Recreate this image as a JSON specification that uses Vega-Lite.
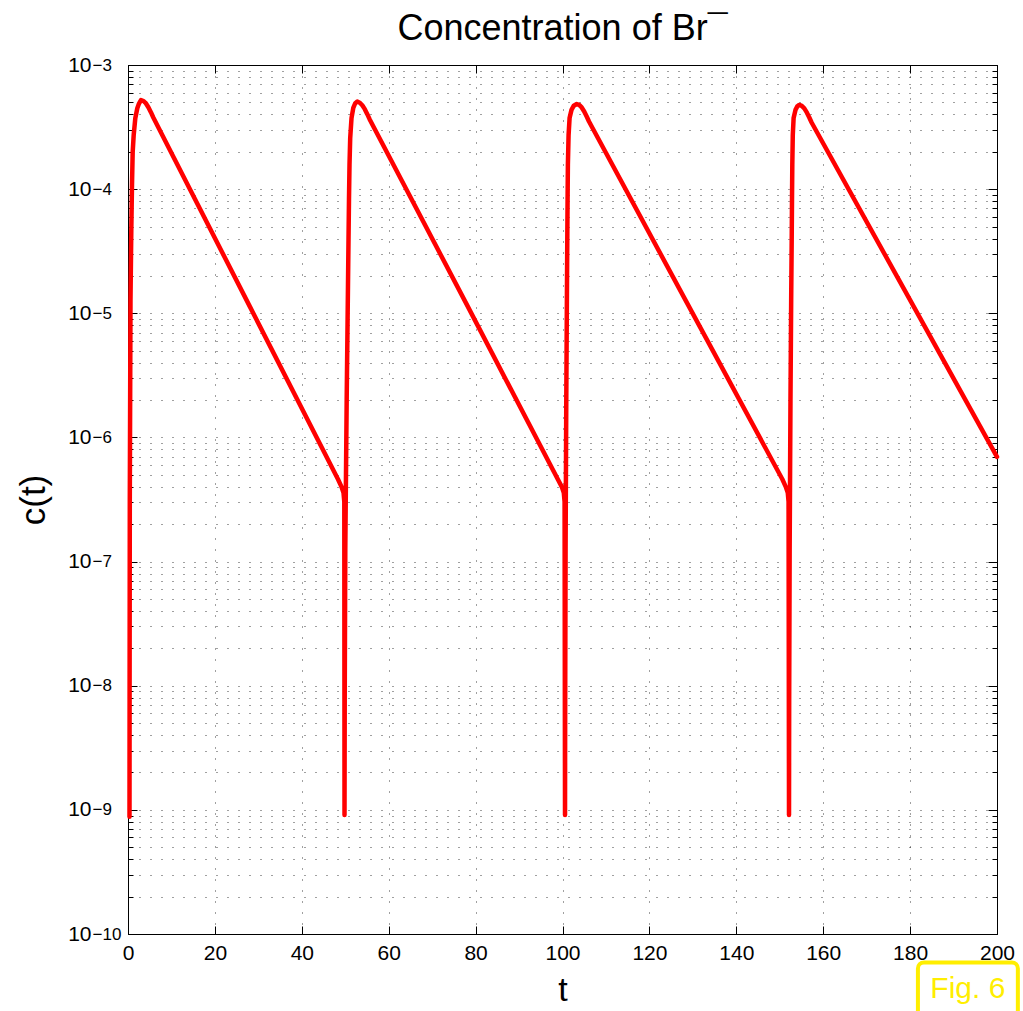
{
  "$schema": "https://vega.github.io/schema/vega-lite/v6.json",
  "width": 869,
  "height": 869,
  "autosize": {"type": "none"},
  "padding": {"left": 128, "top": 65, "right": 26, "bottom": 77},
  "background": "white",
  "title": {"text": "Concentration of Br¯", "fontSize": 36, "font": "Liberation Sans", "fontWeight": "normal", "color": "black", "anchor": "middle", "baseline": "alphabetic", "offset": -22},
  "datasets": {
    "curve": [
      {"t": 0.345, "c": 8.8e-10}, {"t": 0.368, "c": 7.7e-9}, {"t": 0.414, "c": 3.15e-7}, {"t": 0.575, "c": 1.28e-5}, {"t": 0.76, "c": 4.69e-5},
      {"t": 0.85, "c": 7.5e-5}, {"t": 0.92, "c": 1.08e-4}, {"t": 1.08, "c": 2.0e-4}, {"t": 1.31, "c": 2.73e-4}, {"t": 1.68, "c": 3.72e-4},
      {"t": 2.14, "c": 4.48e-4}, {"t": 2.53, "c": 4.89e-4}, {"t": 2.99, "c": 5.22e-4}, {"t": 3.567, "c": 5.13e-4}, {"t": 4.143, "c": 4.9e-4},
      {"t": 4.718, "c": 4.55e-4}, {"t": 5.293, "c": 4.15e-4}, {"t": 5.823, "c": 3.78e-4}, {"t": 28.08, "c": 1.126e-5}, {"t": 48.33, "c": 4.6e-7},
      {"t": 49.14, "c": 4.0e-7}, {"t": 49.6, "c": 3.58e-7}, {"t": 49.78, "c": 3.03e-7}, {"t": 49.83, "c": 9.1e-10},
      {"t": 49.88, "c": 7.7e-9}, {"t": 50.01, "c": 1.25e-7}, {"t": 50.33, "c": 2.01e-6}, {"t": 50.59, "c": 1.28e-5}, {"t": 50.75, "c": 3.9e-5},
      {"t": 50.86, "c": 8.2e-5}, {"t": 50.98, "c": 1.57e-4}, {"t": 51.14, "c": 2.58e-4}, {"t": 51.44, "c": 3.74e-4}, {"t": 51.85, "c": 4.51e-4},
      {"t": 52.29, "c": 4.92e-4}, {"t": 52.77, "c": 5.07e-4}, {"t": 53.35, "c": 4.97e-4}, {"t": 53.92, "c": 4.74e-4}, {"t": 54.5, "c": 4.41e-4},
      {"t": 55.07, "c": 4.02e-4}, {"t": 55.6, "c": 3.66e-4}, {"t": 77.95, "c": 1.18e-5}, {"t": 98.92, "c": 4.6e-7}, {"t": 99.84, "c": 4.0e-7},
      {"t": 100.3, "c": 3.58e-7}, {"t": 100.48, "c": 3.03e-7}, {"t": 100.58, "c": 9.1e-10},
      {"t": 100.62, "c": 7.7e-9}, {"t": 100.71, "c": 1.25e-7}, {"t": 100.87, "c": 2.01e-6}, {"t": 101.01, "c": 1.28e-5}, {"t": 101.1, "c": 3.9e-5},
      {"t": 101.17, "c": 8.2e-5}, {"t": 101.24, "c": 1.57e-4}, {"t": 101.4, "c": 2.73e-4}, {"t": 101.63, "c": 3.74e-4}, {"t": 102.07, "c": 4.35e-4},
      {"t": 102.6, "c": 4.7e-4}, {"t": 103.27, "c": 4.85e-4}, {"t": 103.84, "c": 4.77e-4}, {"t": 104.42, "c": 4.55e-4}, {"t": 105.0, "c": 4.22e-4},
      {"t": 105.57, "c": 3.85e-4}, {"t": 106.1, "c": 3.51e-4}, {"t": 128.34, "c": 1.27e-5}, {"t": 150.6, "c": 4.6e-7}, {"t": 151.39, "c": 4.0e-7},
      {"t": 151.85, "c": 3.58e-7}, {"t": 152.03, "c": 3.03e-7}, {"t": 152.13, "c": 9.1e-10},
      {"t": 152.17, "c": 7.7e-9}, {"t": 152.28, "c": 1.25e-7}, {"t": 152.47, "c": 2.01e-6}, {"t": 152.63, "c": 1.28e-5}, {"t": 152.75, "c": 3.9e-5},
      {"t": 152.82, "c": 8.2e-5}, {"t": 152.89, "c": 1.57e-4}, {"t": 153.0, "c": 2.73e-4}, {"t": 153.19, "c": 3.74e-4}, {"t": 153.62, "c": 4.35e-4},
      {"t": 154.04, "c": 4.64e-4}, {"t": 154.5, "c": 4.77e-4}, {"t": 155.07, "c": 4.68e-4}, {"t": 155.65, "c": 4.47e-4}, {"t": 156.22, "c": 4.15e-4},
      {"t": 156.8, "c": 3.78e-4}, {"t": 157.33, "c": 3.44e-4}, {"t": 178.67, "c": 1.55e-5}, {"t": 200, "c": 6.98e-7}
    ],
    "badge": [{"t1": 181.8, "t2": 204.8, "c1": 5.9e-11, "c2": 2.0e-11, "tm": 193.3, "cm": 3.6e-11, "label": "Fig. 6"}]
  },
  "resolve": {"axis": {"x": "independent", "y": "independent"}},
  "config": {
    "view": {"stroke": "black", "strokeWidth": 1},
    "axis": {"labelFont": "Liberation Sans", "titleFont": "Liberation Sans", "labelColor": "black", "titleColor": "black", "domain": false, "tickColor": "black", "titleFontWeight": "normal", "gridColor": "black", "gridOpacity": 0.75, "gridDash": [1, 10], "gridWidth": 1}
  },
  "layer": [
    {
      "data": {"name": "curve"},
      "mark": {"type": "line", "strokeOpacity": 0},
      "encoding": {
        "x": {"field": "t", "type": "quantitative", "scale": {"domain": [0, 200], "nice": false},
          "axis": {"orient": "bottom", "values": [0, 20, 40, 60, 80, 100, 120, 140, 160, 180, 200], "ticks": false, "grid": true, "labelFontSize": 21, "labelPadding": 8, "labelFlush": false, "title": "t", "titleFontSize": 34, "titlePadding": 10}},
        "y": {"field": "c", "type": "quantitative", "scale": {"type": "log", "domain": [1e-10, 1e-3], "nice": false},
          "axis": {"orient": "left", "values": [1e-10, 1e-9, 1e-8, 1e-7, 1e-6, 1e-5, 1e-4, 1e-3], "labelExpr": "'10'", "ticks": false, "grid": false, "labelFontSize": 21, "labelPadding": 37, "labelFlush": false, "labelBaseline": "middle", "title": "c(t)", "titleFontSize": 35, "titlePadding": 16}}
      }
    },
    {
      "data": {"name": "curve"},
      "mark": {"type": "line", "strokeOpacity": 0},
      "encoding": {
        "x": {"field": "t", "type": "quantitative",
          "axis": {"orient": "top", "values": [0, 20, 40, 60, 80, 100, 120, 140, 160, 180, 200], "labels": false, "grid": false, "tickSize": -8, "title": null}},
        "y": {"field": "c", "type": "quantitative",
          "axis": {"orient": "left", "values": [1e-10, 1e-9, 1e-8, 1e-7, 1e-6, 1e-5, 1e-4, 1e-3], "labelExpr": "'−' + format(-log(datum.value)/LN10, 'd')", "ticks": false, "grid": false, "labelFontSize": 17, "labelAlign": "left", "labelPadding": 36, "labelDy": -10, "labelFlush": false, "title": null}}
      }
    },
    {
      "data": {"name": "curve"},
      "mark": {"type": "line", "strokeOpacity": 0},
      "encoding": {
        "x": {"field": "t", "type": "quantitative",
          "axis": {"orient": "bottom", "values": [0, 20, 40, 60, 80, 100, 120, 140, 160, 180, 200], "labels": false, "grid": false, "tickSize": -8, "title": null}},
        "y": {"field": "c", "type": "quantitative",
          "axis": {"orient": "left", "values": [1e-10, 2e-10, 3e-10, 4e-10, 5e-10, 6e-10, 7e-10, 8e-10, 9e-10, 1e-9, 2e-9, 3e-9, 4e-9, 5e-9, 6e-9, 7e-9, 8e-9, 9e-9, 1e-8, 2e-8, 3e-8, 4e-8, 5e-8, 6e-8, 7e-8, 8e-8, 9e-8, 1e-7, 2e-7, 3e-7, 4e-7, 5e-7, 6e-7, 7e-7, 8e-7, 9e-7, 1e-6, 2e-6, 3e-6, 4e-6, 5e-6, 6e-6, 7e-6, 8e-6, 9e-6, 1e-5, 2e-5, 3e-5, 4e-5, 5e-5, 6e-5, 7e-5, 8e-5, 9e-5, 1e-4, 2e-4, 3e-4, 4e-4, 5e-4, 6e-4, 7e-4, 8e-4, 9e-4, 1e-3], "labels": false, "grid": true, "tickSize": -5, "title": null}}
      }
    },
    {
      "data": {"name": "curve"},
      "mark": {"type": "line", "strokeOpacity": 0},
      "encoding": {
        "x": {"field": "t", "type": "quantitative", "axis": null},
        "y": {"field": "c", "type": "quantitative",
          "axis": {"orient": "right", "values": [1e-10, 2e-10, 3e-10, 4e-10, 5e-10, 6e-10, 7e-10, 8e-10, 9e-10, 1e-9, 2e-9, 3e-9, 4e-9, 5e-9, 6e-9, 7e-9, 8e-9, 9e-9, 1e-8, 2e-8, 3e-8, 4e-8, 5e-8, 6e-8, 7e-8, 8e-8, 9e-8, 1e-7, 2e-7, 3e-7, 4e-7, 5e-7, 6e-7, 7e-7, 8e-7, 9e-7, 1e-6, 2e-6, 3e-6, 4e-6, 5e-6, 6e-6, 7e-6, 8e-6, 9e-6, 1e-5, 2e-5, 3e-5, 4e-5, 5e-5, 6e-5, 7e-5, 8e-5, 9e-5, 1e-4, 2e-4, 3e-4, 4e-4, 5e-4, 6e-4, 7e-4, 8e-4, 9e-4, 1e-3], "labels": false, "grid": false, "tickSize": -5, "title": null}}
      }
    },
    {
      "data": {"name": "curve"},
      "mark": {"type": "line", "strokeOpacity": 0},
      "encoding": {
        "x": {"field": "t", "type": "quantitative", "axis": null},
        "y": {"field": "c", "type": "quantitative",
          "axis": {"orient": "left", "values": [1e-10, 1e-9, 1e-8, 1e-7, 1e-6, 1e-5, 1e-4, 1e-3], "labels": false, "grid": false, "tickSize": -9, "title": null}}
      }
    },
    {
      "data": {"name": "badge"},
      "mark": {"type": "rect", "fill": null, "stroke": "#ffee00", "strokeWidth": 4, "cornerRadius": 6, "clip": false},
      "encoding": {
        "x": {"field": "t1", "type": "quantitative", "axis": null},
        "x2": {"field": "t2"},
        "y": {"field": "c1", "type": "quantitative", "axis": null},
        "y2": {"field": "c2"}
      }
    },
    {
      "data": {"name": "badge"},
      "mark": {"type": "text", "color": "#ffee00", "font": "Liberation Sans", "fontSize": 30, "baseline": "middle", "align": "center", "clip": false},
      "encoding": {
        "x": {"field": "tm", "type": "quantitative", "axis": null},
        "y": {"field": "cm", "type": "quantitative", "axis": null},
        "text": {"field": "label"}
      }
    },
    {
      "data": {"name": "curve"},
      "mark": {"type": "line", "color": "#ff0000", "strokeWidth": 4.5, "strokeJoin": "round", "strokeCap": "round"},
      "encoding": {
        "x": {"field": "t", "type": "quantitative", "axis": null},
        "y": {"field": "c", "type": "quantitative",
          "axis": {"orient": "right", "values": [1e-10, 1e-9, 1e-8, 1e-7, 1e-6, 1e-5, 1e-4, 1e-3], "labels": false, "grid": false, "tickSize": -9, "title": null}}
      }
    }
  ]
}
